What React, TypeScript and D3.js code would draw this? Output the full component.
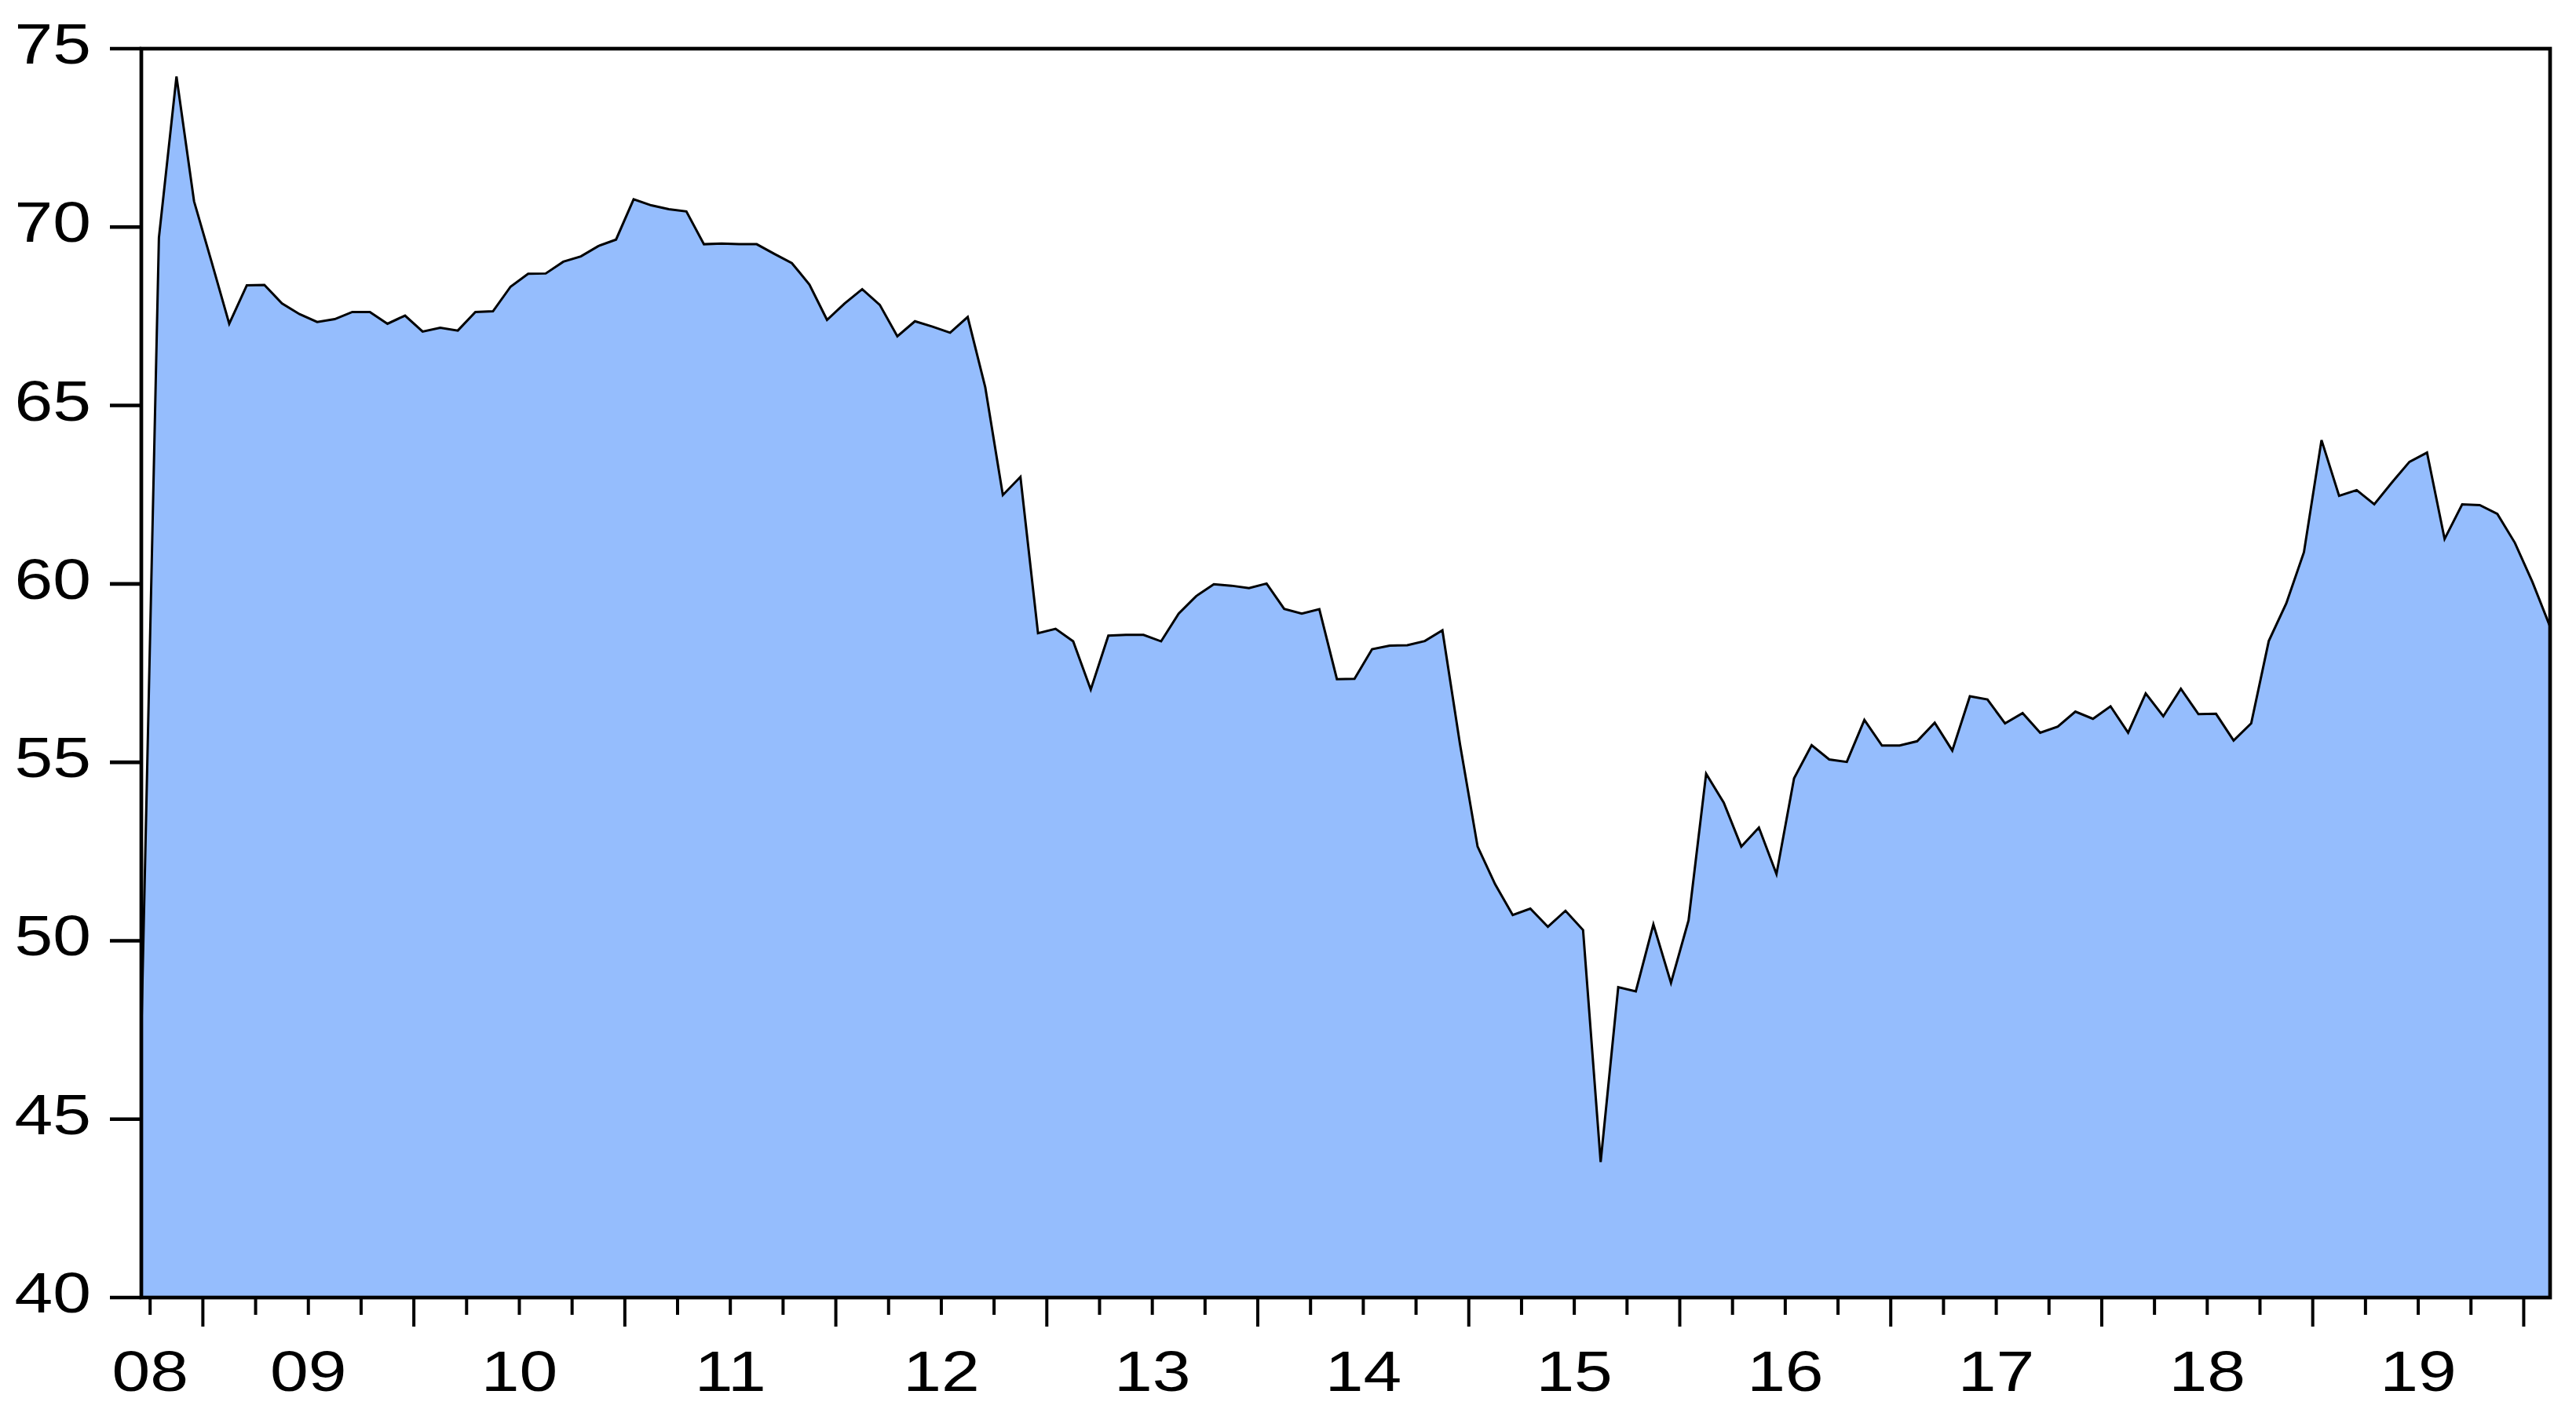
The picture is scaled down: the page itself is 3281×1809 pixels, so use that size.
import React from "react";
import * as d3 from "d3";

// monthly observations, Sep 2008 .. Feb 2020
const startYear = 2008;
const startMonth = 9;
const values = [
  47.4, 69.7, 74.22, 70.72, 69.02, 67.29, 68.37, 68.38, 67.86, 67.56, 67.34, 67.42,
  67.62, 67.62, 67.29, 67.52, 67.07, 67.18, 67.1, 67.62, 67.64, 68.33, 68.69, 68.7,
  69.03, 69.18, 69.47, 69.65, 70.78, 70.61, 70.5, 70.44, 69.52, 69.54, 69.52, 69.52,
  69.25, 68.99, 68.39, 67.4, 67.86, 68.26, 67.82, 66.94, 67.36, 67.21, 67.04, 67.48,
  65.51, 62.49, 63.0, 58.62, 58.74, 58.39, 57.04, 58.55, 58.57, 58.57, 58.39, 59.17,
  59.66, 59.99, 59.95, 59.88, 60.01, 59.3, 59.17, 59.29, 57.33, 57.34, 58.17, 58.27,
  58.28, 58.4, 58.7, 55.51, 52.64, 51.58, 50.72, 50.9, 50.39, 50.84, 50.3, 43.8,
  48.7, 48.58, 50.46, 48.82, 50.57, 54.68, 53.87, 52.64, 53.17, 51.87, 54.55, 55.48,
  55.08, 55.01, 56.19, 55.47, 55.47, 55.59, 56.11, 55.33, 56.85, 56.76, 56.09, 56.38,
  55.83, 56.0, 56.42, 56.22, 56.57, 55.83, 56.93, 56.29, 57.06, 56.35, 56.36, 55.61,
  56.09, 58.4, 59.46, 60.89, 64.03, 62.47, 62.63, 62.23, 62.84, 63.42, 63.68, 61.26,
  62.23, 62.21, 61.96, 61.15, 60.05, 58.8,
];
const yTicks = [40, 45, 50, 55, 60, 65, 70, 75];
const yearLabels = ["08", "09", "10", "11", "12", "13", "14", "15", "16", "17", "18", "19"];

const W = 3281;
const H = 1809;
const plot = { left: 180, right: 3248, top: 62, bottom: 1653 };
const FONT = "'Liberation Sans', Arial, sans-serif";

export default function App() {
  const n = values.length;
  const x = d3.scaleLinear().domain([0, n - 1]).range([plot.left, plot.right]);
  const y = d3.scaleLinear().domain([40, 75]).range([plot.bottom, plot.top]);

  const area = d3.area<number>().x((_, i) => x(i)).y0(y(40)).y1((d) => y(d));
  const line = d3.line<number>().x((_, i) => x(i)).y((d) => y(d));

  // quarter boundaries sit between observations; January ones get long ticks
  const firstQuarter = (3 - ((startMonth - 1) % 3)) % 3 || 3; // months until next quarter start
  const ticks: { pos: number; major: boolean }[] = [];
  for (let k = firstQuarter; k < n; k += 3) {
    const month = ((startMonth - 1 + k) % 12) + 1;
    ticks.push({ pos: k - 0.5, major: month === 1 });
  }

  // label positions: first (partial) year at first boundary, others mid-year
  const firstJan = (12 - (startMonth - 1)) % 12;
  const labelPos = yearLabels.map((_, k) => (k === 0 ? firstQuarter - 0.5 : firstJan + 12 * (k - 1) + 5.5));

  return (
    <svg
      width={W}
      height={H}
      style={{ position: "fixed", left: 0, top: 0, background: "#fff" }}
      fontFamily={FONT}
    >
      <defs>
        <clipPath id="plotclip">
          <rect x={plot.left} y={plot.top} width={plot.right - plot.left} height={plot.bottom - plot.top} />
        </clipPath>
      </defs>
      <rect x={0} y={0} width={W} height={H} fill="#fff" />

      <g clipPath="url(#plotclip)">
        <path d={area(values) || ""} fill="#95bdfd" />
        <path d={line(values) || ""} fill="none" stroke="#000" strokeWidth={3} strokeLinejoin="miter" />
      </g>

      {/* y axis */}
      {yTicks.map((t) => (
        <g key={t}>
          <line x1={140} x2={plot.left} y1={y(t)} y2={y(t)} stroke="#000" strokeWidth={4.6} />
          <text transform={`translate(116,${y(t) + 19}) scale(1.2,1)`} textAnchor="end" fontSize={73} fill="#000">
            {t}
          </text>
        </g>
      ))}

      {/* x axis */}
      {ticks.map((t, i) => (
        <line
          key={i}
          x1={x(t.pos)}
          x2={x(t.pos)}
          y1={plot.bottom}
          y2={t.major ? 1690 : 1675}
          stroke="#000"
          strokeWidth={4}
        />
      ))}
      {yearLabels.map((lab, k) => (
        <text
          key={lab}
          transform={`translate(${x(labelPos[k])},1772) scale(1.2,1)`}
          textAnchor="middle"
          fontSize={73}
          fill="#000"
        >
          {lab}
        </text>
      ))}

      <rect
        x={plot.left}
        y={plot.top}
        width={plot.right - plot.left}
        height={plot.bottom - plot.top}
        fill="none"
        stroke="#000"
        strokeWidth={4.7}
      />
    </svg>
  );
}
